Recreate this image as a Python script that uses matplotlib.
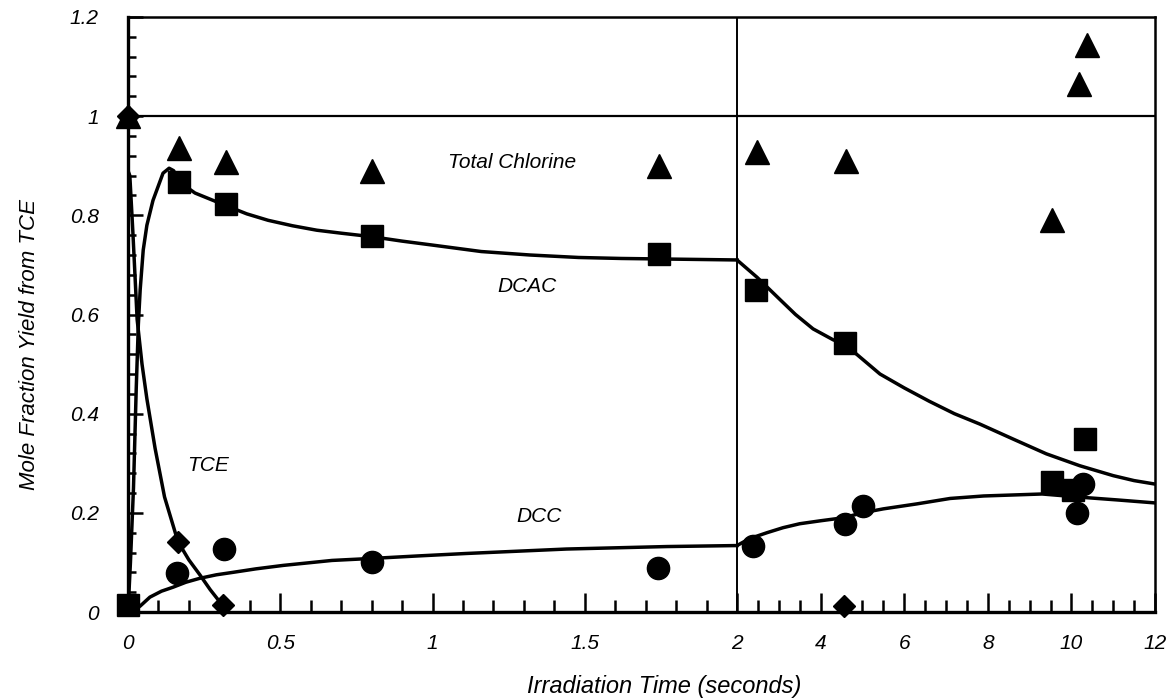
import numpy as np
import matplotlib.pyplot as plt
from matplotlib.ticker import FixedLocator

plt.rcParams['font.family'] = ['Liberation Sans', 'DejaVu Sans']
plt.rcParams['font.style'] = 'italic'

# measured data points
chlorine_x = [0.0, 0.167, 0.322, 0.80, 1.745, 2.48, 4.61, 9.54, 10.18, 10.37]
chlorine_y = [1.0, 0.935, 0.907, 0.889, 0.899, 0.927, 0.909, 0.791, 1.065, 1.143]

dcac_x = [0.0, 0.167, 0.322, 0.80, 1.745, 2.45, 4.58, 9.54, 10.04, 10.33]
dcac_y = [0.015, 0.868, 0.823, 0.758, 0.722, 0.649, 0.543, 0.262, 0.246, 0.349]

dcc_x = [0.161, 0.315, 0.80, 1.74, 2.38, 4.58, 5.01, 10.13, 10.28]
dcc_y = [0.078, 0.128, 0.10, 0.088, 0.134, 0.178, 0.214, 0.20, 0.258]

tce_x = [0.0, 0.164, 0.313, 4.55]
tce_y = [1.0, 0.142, 0.015, 0.012]

# fitted curves
tce_fit_x = [0.0, 0.006, 0.016, 0.03, 0.046, 0.062, 0.089, 0.12, 0.164, 0.2, 0.236, 0.27, 0.302]
tce_fit_y = [0.89, 0.88, 0.766, 0.59, 0.50, 0.43, 0.33, 0.232, 0.142, 0.105, 0.075, 0.045, 0.02]

dcac_fit_left_x = [0.0, 0.008, 0.018, 0.027, 0.034, 0.04, 0.05, 0.062, 0.082, 0.1, 0.115, 0.135,
                   0.15, 0.167, 0.22, 0.32, 0.39, 0.46, 0.54, 0.62, 0.7, 0.8, 0.9, 1.0, 1.16,
                   1.32, 1.48, 1.62, 1.75, 2.0]
dcac_fit_left_y = [0.0, 0.1, 0.25, 0.45, 0.58, 0.65, 0.73, 0.78, 0.83, 0.86, 0.885, 0.895,
                   0.89, 0.868, 0.845, 0.82, 0.803, 0.79, 0.779, 0.77, 0.764, 0.757, 0.748,
                   0.74, 0.727, 0.72, 0.715, 0.713, 0.712, 0.71]
dcac_fit_right_x = [2.0, 2.48, 3.03, 3.4, 3.82, 4.3, 4.58, 5.0, 5.42, 6.0, 6.6, 7.2, 7.81, 8.6,
                    9.4, 10.2, 11.0, 11.5, 12.0]
dcac_fit_right_y = [0.71, 0.675, 0.63, 0.60, 0.571, 0.549, 0.54, 0.51, 0.48, 0.452, 0.425,
                    0.40, 0.379, 0.349, 0.319, 0.295, 0.275, 0.265, 0.258]

dcc_fit_left_x = [0.0, 0.02, 0.04, 0.072, 0.11, 0.148, 0.19, 0.236, 0.29, 0.345, 0.42, 0.51,
                  0.67, 0.80, 0.95, 1.11, 1.44, 1.77, 2.0]
dcc_fit_left_y = [0.0, 0.004, 0.012, 0.03, 0.042, 0.05, 0.06, 0.068, 0.075, 0.08, 0.087, 0.094,
                  0.104, 0.108, 0.113, 0.118, 0.127, 0.132, 0.134]
dcc_fit_right_x = [2.0, 2.3, 2.72, 3.1, 3.5, 4.0, 4.54, 5.0, 5.5, 6.3, 7.1, 7.9, 8.6, 9.3, 10.3,
                   11.1, 12.0]
dcc_fit_right_y = [0.134, 0.148, 0.16, 0.17, 0.178, 0.184, 0.19, 0.2, 0.208, 0.218, 0.229,
                   0.234, 0.236, 0.238, 0.231, 0.226, 0.22]

# x axis is broken at 2 s: 0-2 on the left, 2-12 compressed on the right
k = (418 / 609) * 2 / 10


def fwd(x):
    x = np.asarray(x, dtype=float)
    return np.where(x <= 2, x, 2 + (x - 2) * k)


def inv(u):
    u = np.asarray(u, dtype=float)
    return np.where(u <= 2, u, 2 + (u - 2) / k)


fig = plt.figure(figsize=(11.69, 7.0), dpi=100)
ax = fig.add_axes([128 / 1169, 1 - 612 / 700, (1155 - 128) / 1169, (612 - 17) / 700])
ax.set_xscale('function', functions=(fwd, inv))
ax.set_xlim(0, 12)
ax.set_ylim(0, 1.2)

lw = 2.5
for cx, cy in [(tce_fit_x, tce_fit_y), (dcac_fit_left_x, dcac_fit_left_y),
               (dcac_fit_right_x, dcac_fit_right_y), (dcc_fit_left_x, dcc_fit_left_y),
               (dcc_fit_right_x, dcc_fit_right_y)]:
    ax.plot(cx, cy, color='black', lw=lw, zorder=2, solid_joinstyle='round')

ax.plot(tce_x, tce_y, 'D', color='black', ms=11, zorder=3, clip_on=False)
ax.plot(dcc_x, dcc_y, 'o', color='black', ms=16, zorder=3, clip_on=False)
ax.plot(dcac_x, dcac_y, 's', color='black', ms=16, zorder=3, clip_on=False)
ax.plot(chlorine_x, chlorine_y, '^', color='black', ms=17, zorder=4, clip_on=False)

ax.axhline(1.0, color='black', lw=1.6, zorder=1)
ax.axvline(2.0, color='black', lw=1.4, zorder=1)

ax.text(1.26, 0.906, 'Total Chlorine', fontsize=15, ha='center', va='center')
ax.text(1.31, 0.656, 'DCAC', fontsize=15, ha='center', va='center')
ax.text(1.35, 0.192, 'DCC', fontsize=15, ha='center', va='center')
ax.text(0.263, 0.296, 'TCE', fontsize=15, ha='center', va='center')

major_x = [0, 0.5, 1, 1.5, 2, 4, 6, 8, 10, 12]
minor_x = list(np.arange(0.1, 2.0, 0.1)) + list(np.arange(2.5, 12.0, 0.5))
ax.xaxis.set_major_locator(FixedLocator(major_x))
ax.xaxis.set_minor_locator(FixedLocator(minor_x))
ax.set_xticklabels(['0', '0.5', '1', '1.5', '2', '4', '6', '8', '10', '12'])
ax.yaxis.set_major_locator(FixedLocator([0, 0.2, 0.4, 0.6, 0.8, 1.0, 1.2]))
ax.yaxis.set_minor_locator(FixedLocator(np.arange(0.04, 1.2, 0.04)))
ax.set_yticklabels(['0', '0.2', '0.4', '0.6', '0.8', '1', '1.2'])

ax.tick_params(axis='x', which='major', direction='in', length=14, width=1.8,
               labelsize=15, pad=16, top=False)
ax.tick_params(axis='x', which='minor', direction='in', length=8.5, width=1.8, top=False)
ax.tick_params(axis='y', which='major', direction='in', length=11, width=1.8,
               labelsize=15, pad=21, right=False)
ax.tick_params(axis='y', which='minor', direction='in', length=6, width=1.8, right=False)

ax.spines['left'].set_linewidth(2.4)
ax.spines['bottom'].set_linewidth(2.4)
ax.spines['top'].set_linewidth(1.8)
ax.spines['right'].set_linewidth(1.8)

fig.text(664 / 1169, 1 - 687 / 700, 'Irradiation Time (seconds)', fontsize=17,
         ha='center', va='center')
fig.text(30 / 1169, 1 - 345 / 700, 'Mole Fraction Yield from TCE', fontsize=16,
         ha='center', va='center', rotation=90)

fig.savefig('out.png', dpi=100)
